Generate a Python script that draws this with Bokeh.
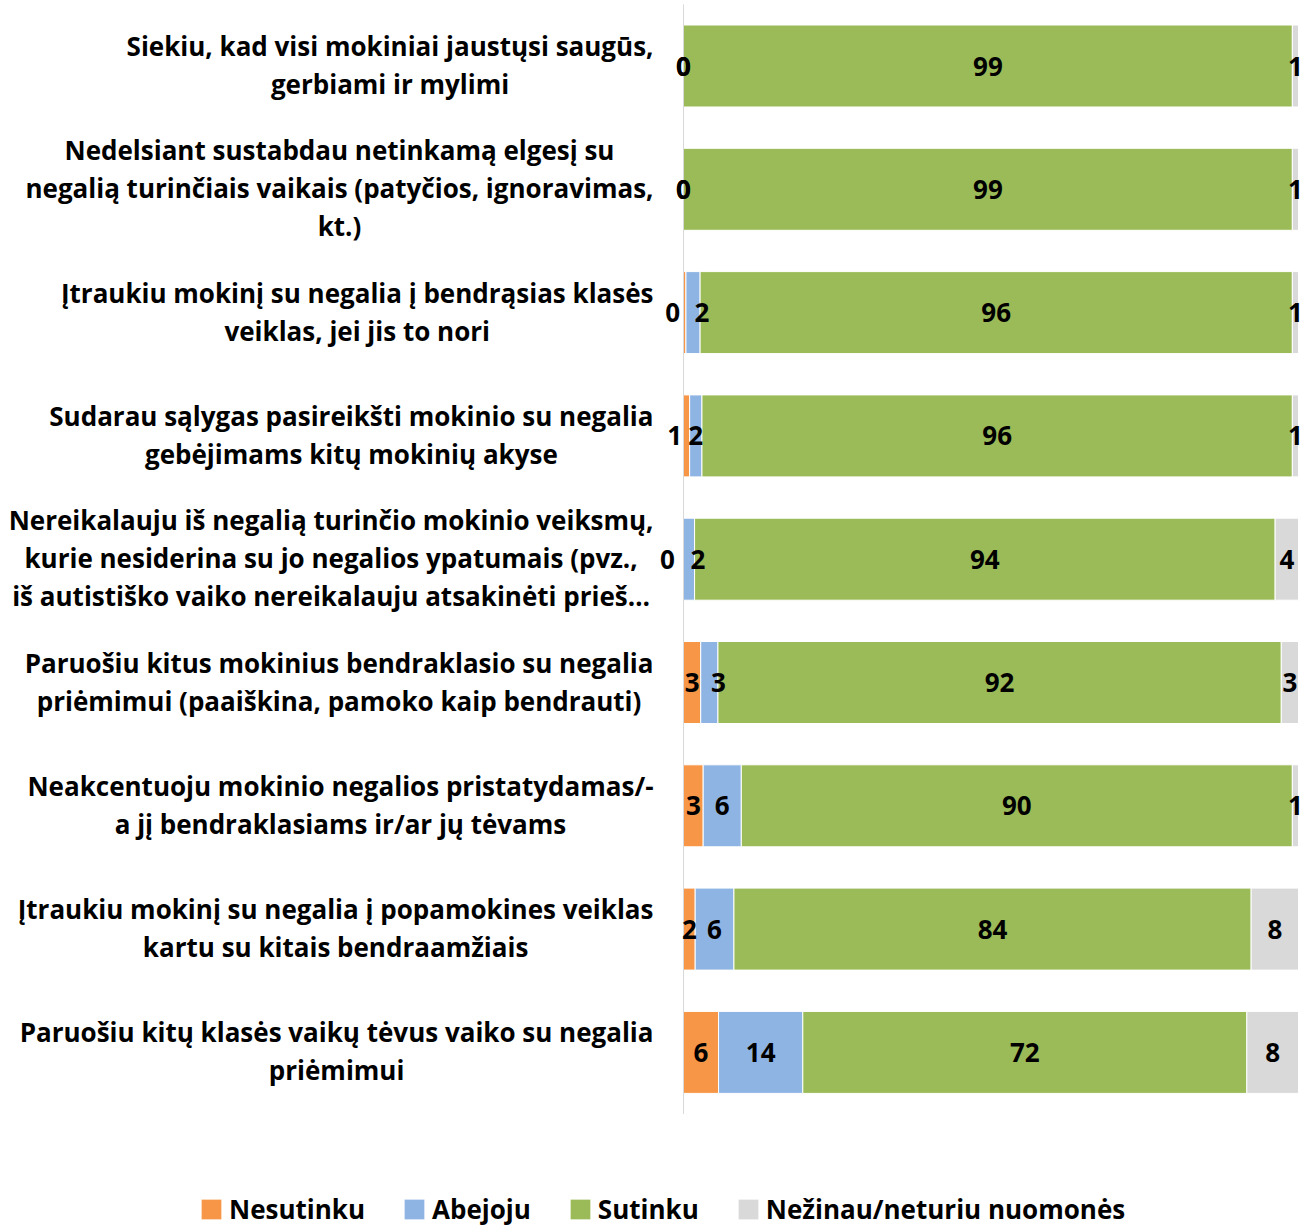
import glob
import subprocess
from bokeh.plotting import figure
from bokeh.models import Range1d, ColumnDataSource, Legend, LegendItem
from bokeh.core.properties import value
from bokeh.embed import file_html
from bokeh.resources import INLINE

# ---------------- data ----------------
categories = [
    "Siekiu, kad visi mokiniai jaustųsi saugūs,\ngerbiami ir mylimi",
    "Nedelsiant sustabdau netinkamą elgesį su\nnegalią turinčiais vaikais (patyčios, ignoravimas,\nkt.)",
    "Įtraukiu mokinį su negalia į bendrąsias klasės\nveiklas, jei jis to nori",
    "Sudarau sąlygas pasireikšti mokinio su negalia\ngebėjimams kitų mokinių akyse",
    "Nereikalauju iš negalią turinčio mokinio veiksmų,\nkurie nesiderina su jo negalios ypatumais (pvz.,\niš autistiško vaiko nereikalauju atsakinėti prieš…",
    "Paruošiu kitus mokinius bendraklasio su negalia\npriėmimui (paaiškina, pamoko kaip bendrauti)",
    "Neakcentuoju mokinio negalios pristatydamas/-\na jį bendraklasiams ir/ar jų tėvams",
    "Įtraukiu mokinį su negalia į popamokines veiklas\nkartu su kitais bendraamžiais",
    "Paruošiu kitų klasės vaikų tėvus vaiko su negalia\npriėmimui",
]
nesutinku = [0.0, 0.0, 0.4, 1.0, 0.0, 2.8, 3.2, 1.9, 5.7]
abejoju   = [0.0, 0.0, 2.3, 2.0, 1.8, 2.8, 6.2, 6.3, 13.7]
sutinku   = [99.0, 99.0, 96.3, 96.0, 94.4, 91.6, 89.6, 84.1, 72.2]
nezinau   = [1.0, 1.0, 1.0, 1.0, 3.8, 2.8, 1.0, 7.7, 8.4]
series_names = ["Nesutinku", "Abejoju", "Sutinku", "Nežinau/neturiu nuomonės"]
colors = ["#F79646", "#8EB4E3", "#9BBB59", "#D9D9D9"]

# ---------------- geometry / style ----------------
W, H = 1303, 1226
AX_X = 683          # px of x=0 inside figure
AX_END = 1298       # px of x=100
ROW0 = 65.5         # px of first row center
ROWSTEP = 123.3     # px between rows
FONT = "Open Sans"
VAL_SIZE = 26
LEG_SIZE = 26
LINE_STEP = 38
CAT_GAP = 30        # px between label block right edge and axis
REF_LINE_W = 525    # width the first label line should take

pxu = (AX_END - AX_X) / 100.0
n = len(categories)


def find_font():
    try:
        out = subprocess.run(["fc-match", "-f", "%{file}", "Open Sans:style=Bold"],
                             capture_output=True, text=True, timeout=10).stdout.strip()
        if out and "OpenSans" in out.replace(" ", ""):
            return out
    except Exception:
        pass
    for pat in ["/usr/share/fonts/**/OpenSans-Bold.ttf", "/usr/share/fonts/**/OpenSans*.ttf"]:
        g = glob.glob(pat, recursive=True)
        if g:
            return g[0]
    return None


def load_font(size):
    path = find_font()
    if not path:
        return None
    try:
        from PIL import ImageFont
        f = ImageFont.truetype(path, size)
        try:
            if "Bold" not in path:
                f.set_variation_by_name("Bold")
        except Exception:
            pass
        return f
    except Exception:
        return None


_probe = load_font(100)
CAT_SIZE = 27
if _probe is not None:
    try:
        w100 = _probe.getlength(categories[0].split("\n")[0])
        CAT_SIZE = max(22, min(30, round(REF_LINE_W / w100 * 100)))
    except Exception:
        pass
_font = load_font(CAT_SIZE)


def text_width(s):
    if _font is not None:
        try:
            return _font.getlength(s)
        except Exception:
            pass
    return len(s) * CAT_SIZE * 0.56


p = figure(width=W, height=H, output_backend="svg", toolbar_location=None,
           x_axis_location=None, y_axis_location=None,
           min_border=0, min_border_left=0, min_border_right=0,
           min_border_top=0, min_border_bottom=0)
p.x_range = Range1d(-AX_X / pxu, (W - AX_X) / pxu)
p.y_range = Range1d((H - ROW0) / ROWSTEP, -ROW0 / ROWSTEP)
p.xgrid.visible = False
p.ygrid.visible = False
p.outline_line_color = None
p.background_fill_color = "white"
p.border_fill_color = "white"

ys = list(range(n))
src = ColumnDataSource(dict(y=ys, **{s: v for s, v in zip(series_names, [nesutinku, abejoju, sutinku, nezinau])}))
rends = p.hbar_stack(series_names, y="y", height=0.665, color=colors, source=src,
                     line_color="white", line_width=1)

# axis line
p.segment(x0=[0], y0=[-0.5], x1=[0], y1=[n - 0.5], line_color="#D9D9D9", line_width=1)

# value labels (centred in segments, tiny segments nudged aside)
lx, ly, lt, lo = [], [], [], []
for i in range(n):
    vals = [nesutinku[i], abejoju[i], sutinku[i], nezinau[i]]
    start = 0.0
    for k, v in enumerate(vals):
        off = 0
        if k == 0 and v < 1.5 and vals[1] > 0:
            off = -16 if v == 0 else -12
        if k == 1 and 0 < v < 3 and not (0.5 <= vals[0] < 1.5):
            off = 9
        lx.append(start + v / 2.0)
        ly.append(i)
        lt.append(str(int(v + 0.5)))
        lo.append(off)
        start += v
p.text(x="x", y="y", text="t", x_offset="o",
       source=ColumnDataSource(dict(x=lx, y=ly, t=lt, o=lo)),
       text_font=value(FONT), text_font_style="bold", text_font_size=f"{VAL_SIZE}px",
       text_align="center", text_baseline="middle", text_color="black")

# category labels (each line centred inside a right-aligned block)
cx, cy, ct, cxo, cyo = [], [], [], [], []
for i, cat in enumerate(categories):
    lines = cat.split("\n")
    wmax = max(text_width(s) for s in lines)
    for k, s in enumerate(lines):
        cx.append(0)
        cy.append(i)
        ct.append(s)
        cxo.append(-(CAT_GAP + wmax / 2.0))
        cyo.append((k - (len(lines) - 1) / 2.0) * LINE_STEP - 1)
p.text(x="x", y="y", text="t", x_offset="xo", y_offset="yo",
       source=ColumnDataSource(dict(x=cx, y=cy, t=ct, xo=cxo, yo=cyo)),
       text_font=value(FONT), text_font_style="bold", text_font_size=f"{CAT_SIZE}px",
       text_align="center", text_baseline="middle", text_color="black")

legend = Legend(items=[LegendItem(label=s, renderers=[r]) for s, r in zip(series_names, rends)],
                orientation="horizontal", location=(198, -1),
                label_text_font=FONT, label_text_font_style="bold",
                label_text_font_size=f"{LEG_SIZE}px", label_text_color="black",
                glyph_width=26, glyph_height=26, label_standoff=5, spacing=36,
                padding=0, margin=0, border_line_color=None, background_fill_alpha=0)
p.add_layout(legend)

open("out.html", "w").write(file_html(p, INLINE))
